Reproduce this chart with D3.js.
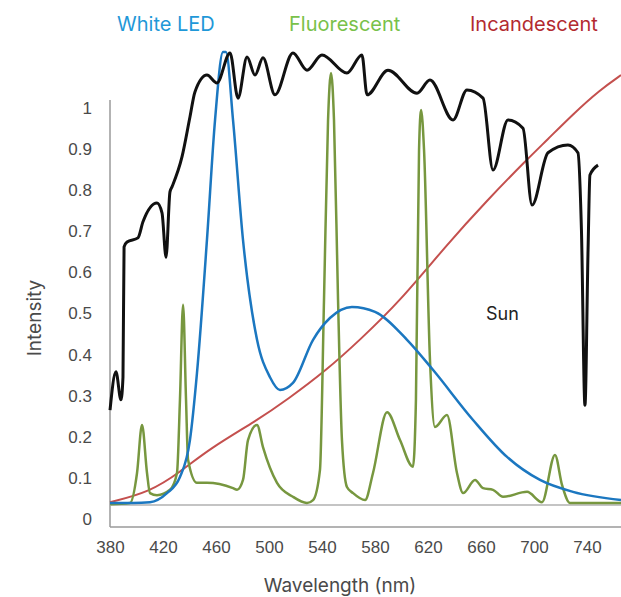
<!DOCTYPE html>
<html>
<head>
<meta charset="utf-8">
<script src="https://cdn.jsdelivr.net/npm/d3@7"></script>
<style>
  body { margin: 0; background: #fff; }
  svg { font-family: "Inter", "Noto Sans", sans-serif; }
</style>
</head>
<body>
<div id="vis"></div>
<script>
// wavelength (nm) / intensity pairs
const sunNm = [381.5, 385.9, 389.6, 391.1, 391.9, 394.1, 402.2, 405.9, 416.3, 420, 423, 425.9, 427.4, 434.8, 440.7, 444.4, 453.3, 460.7, 470.4, 476.3, 483, 488.9, 494.8, 503.7, 517, 527.4, 538.5, 557, 568.1, 571.9, 587.4, 608.9, 618.5, 635.6, 645.9, 657.8, 665.2, 676.3, 687.4, 694.1, 705.9, 720.7, 728.1, 730.7, 733.3, 735.6, 737, 743];
const sunVal = [0.265, 0.358, 0.29, 0.345, 0.662, 0.674, 0.684, 0.723, 0.769, 0.745, 0.637, 0.796, 0.808, 0.881, 0.978, 1.039, 1.08, 1.061, 1.134, 1.024, 1.124, 1.08, 1.122, 1.032, 1.134, 1.092, 1.129, 1.085, 1.129, 1.032, 1.092, 1.036, 1.068, 0.971, 1.044, 1.024, 0.849, 0.971, 0.951, 0.764, 0.891, 0.91, 0.891, 0.703, 0.277, 0.655, 0.837, 0.861];

const ledNm = [381.5, 398.5, 411.1, 423.7, 433.3, 440.7, 445.9, 453.3, 459.3, 465.2, 467.4, 472.6, 480, 490.4, 500, 507.4, 517, 531.9, 544.4, 560.7, 577.8, 601.5, 620.7, 650.4, 675.6, 700, 724.4, 760];
const ledVal = [0.039, 0.039, 0.041, 0.063, 0.102, 0.192, 0.355, 0.679, 0.971, 1.136, 1.136, 0.971, 0.679, 0.436, 0.345, 0.314, 0.331, 0.436, 0.489, 0.516, 0.504, 0.436, 0.363, 0.241, 0.151, 0.095, 0.066, 0.046];

const fluoNm = [381.5, 396.3, 401.5, 405.2, 408.9, 411.1, 416.3, 425.9, 431.1, 433.3, 435.6, 437.8, 439.3, 445.9, 453.3, 472.6, 475.6, 480, 483.7, 490.4, 494.8, 505.2, 517, 527.4, 531.9, 537, 540, 543, 545.2, 547.4, 550.4, 553.3, 557, 561.5, 570.4, 576.3, 586.7, 596.3, 605.9, 608.1, 610.4, 611.9, 614.1, 618.5, 622.2, 631.1, 638.5, 643, 651.9, 657.8, 665.2, 672.6, 690.4, 701.5, 711.1, 716.3, 722.2, 760];
const fluoVal = [0.036, 0.039, 0.112, 0.229, 0.112, 0.063, 0.058, 0.071, 0.112, 0.29, 0.521, 0.29, 0.144, 0.088, 0.088, 0.075, 0.071, 0.095, 0.192, 0.229, 0.175, 0.088, 0.054, 0.039, 0.046, 0.119, 0.533, 0.971, 1.085, 0.971, 0.533, 0.192, 0.078, 0.063, 0.046, 0.112, 0.26, 0.192, 0.127, 0.29, 0.898, 0.995, 0.898, 0.387, 0.224, 0.253, 0.112, 0.063, 0.095, 0.075, 0.071, 0.054, 0.066, 0.041, 0.156, 0.083, 0.039, 0.039];

const incNm = [381.5, 411.1, 433.3, 455.6, 490.4, 512.6, 542.2, 566.7, 596.3, 631.1, 660.7, 690.4, 705.2, 724.4, 744.4, 760];
const incVal = [0.041, 0.066, 0.114, 0.172, 0.24, 0.29, 0.363, 0.436, 0.53, 0.668, 0.775, 0.875, 0.922, 0.985, 1.044, 1.08];

const yTicks = [0, 0.1, 0.2, 0.3, 0.4, 0.5, 0.6, 0.7, 0.8, 0.9, 1];
const xTicks = [380, 420, 460, 500, 540, 580, 620, 660, 700, 740];
const floorLevel = 0.034;

const width = 621, height = 597;

const svg = d3.select("#vis").append("svg")
    .attr("width", width)
    .attr("height", height);

const x = d3.scaleLinear().domain([380, 740]).range([108, 594]);
const xLab = d3.scaleLinear().domain([380, 740]).range([110, 587]);
const y = d3.scaleLinear().domain([0, 1]).range([519, 108]);

// frame
svg.append("line")
    .attr("x1", 110).attr("x2", 110).attr("y1", 100).attr("y2", 527)
    .attr("stroke", "#9a9a9a").attr("stroke-width", 1.5);
svg.append("line")
    .attr("x1", 110).attr("x2", width).attr("y1", 527).attr("y2", 527)
    .attr("stroke", "#9a9a9a").attr("stroke-width", 1.5);
svg.append("line")
    .attr("x1", 110).attr("x2", width).attr("y1", y(floorLevel)).attr("y2", y(floorLevel))
    .attr("stroke", "#c4c4c4").attr("stroke-width", 2);

// axes
const yAxis = svg.append("g")
    .attr("transform", "translate(92,0)")
    .call(d3.axisLeft(y).tickValues(yTicks).tickSize(0).tickPadding(0).tickFormat(d => d));
yAxis.select(".domain").remove();
yAxis.selectAll("text").attr("font-size", 17).attr("fill", "#4a4a4a");

const xAxis = svg.append("g")
    .attr("transform", "translate(0,541)")
    .call(d3.axisBottom(xLab).tickValues(xTicks).tickSize(0).tickPadding(0));
xAxis.select(".domain").remove();
xAxis.selectAll("text").attr("font-size", 17).attr("fill", "#4a4a4a");

svg.append("text")
    .attr("x", 340).attr("y", 592)
    .attr("text-anchor", "middle")
    .attr("font-size", 19).attr("fill", "#4a4a4a")
    .text("Wavelength (nm)");

svg.append("text")
    .attr("transform", "translate(41,318) rotate(-90)")
    .attr("text-anchor", "middle")
    .attr("font-size", 19).attr("fill", "#4a4a4a")
    .text("Intensity");

// spectra
const line = d3.line()
    .x(d => x(d[0]))
    .y(d => y(d[1]))
    .curve(d3.curveMonotoneX);

const series = [
    { nm: incNm, val: incVal, color: "#c4504e", w: 2, curve: d3.curveBasis },
    { nm: fluoNm, val: fluoVal, color: "#77973f", w: 2.5, curve: d3.curveMonotoneX },
    { nm: ledNm, val: ledVal, color: "#1b77c0", w: 2.5, curve: d3.curveMonotoneX },
    { nm: sunNm, val: sunVal, color: "#111", w: 3, curve: d3.curveMonotoneX }
];

svg.selectAll(".spec")
    .data(series)
    .enter()
    .append("path")
    .attr("class", "spec")
    .attr("fill", "none")
    .attr("stroke", d => d.color)
    .attr("stroke-width", d => d.w)
    .attr("stroke-linejoin", "round")
    .attr("d", d => line.curve(d.curve)(d.nm.map((n, i) => [n, d.val[i]])));

// labels
const titles = [
    { t: "White LED", x: 117, c: "#1f98d8" },
    { t: "Fluorescent", x: 289, c: "#79c14a" },
    { t: "Incandescent", x: 470, c: "#b32a30" }
];
svg.selectAll(".ttl")
    .data(titles)
    .enter()
    .append("text")
    .attr("class", "ttl")
    .attr("x", d => d.x).attr("y", 31)
    .attr("font-size", 20)
    .attr("fill", d => d.c)
    .text(d => d.t);

svg.append("text")
    .attr("x", 486).attr("y", 320)
    .attr("font-size", 18).attr("fill", "#222")
    .text("Sun");
</script>
</body>
</html>
